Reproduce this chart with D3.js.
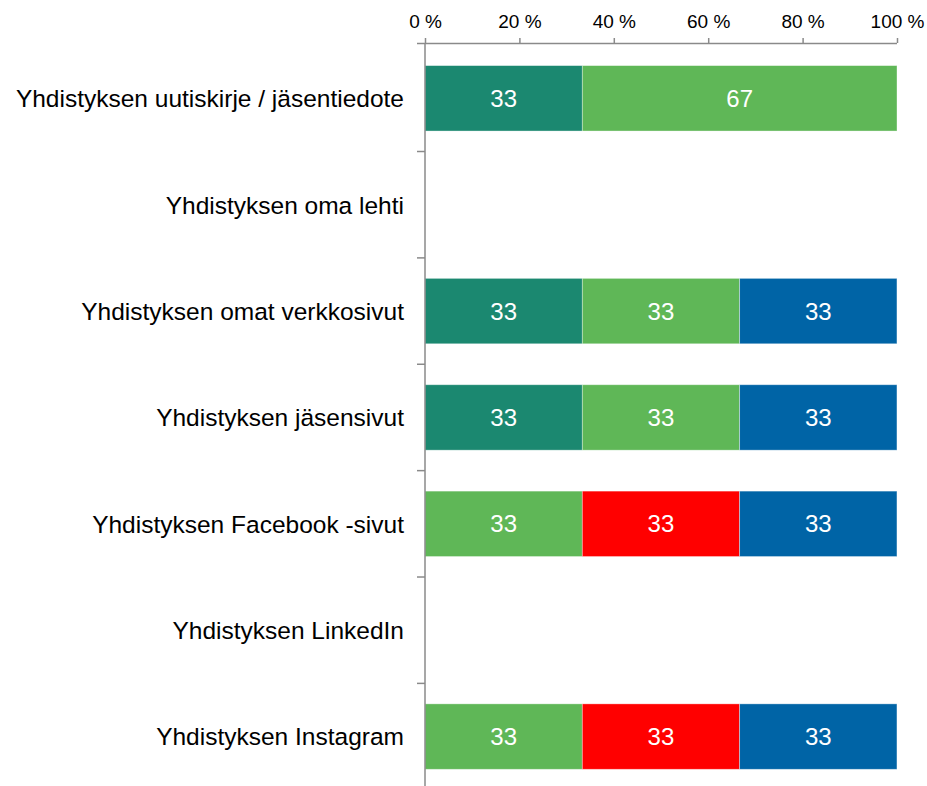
<!DOCTYPE html>
<html><head><meta charset="utf-8">
<script src="https://cdn.jsdelivr.net/npm/d3@7"></script>
<style>body{margin:0;background:#fff}svg{display:block}</style>
</head><body>
<script>
const categories = ["Yhdistyksen uutiskirje / jäsentiedote","Yhdistyksen oma lehti","Yhdistyksen omat verkkosivut","Yhdistyksen jäsensivut","Yhdistyksen Facebook -sivut","Yhdistyksen LinkedIn","Yhdistyksen Instagram"];
const seriesNames = ["S1","S2","S3","S4"];
const s1 = [33.33, 0, 33.33, 33.33, 0, 0, 0];
const s2 = [66.67, 0, 33.33, 33.33, 33.33, 0, 33.33];
const s3 = [0, 0, 0, 0, 33.33, 0, 33.33];
const s4 = [0, 0, 33.33, 33.33, 33.33, 0, 33.33];
const tickValues = [0,20,40,60,80,100];
const colors = ["#1b8870","#5fb757","#ff0000","#0064a6"];

const W=927,H=786;
const FONT="Liberation Sans, Arial, sans-serif";
const svg=d3.select("body").append("svg").attr("width",W).attr("height",H);
const x=d3.scaleLinear().domain([0,100]).range([425,897]);
const y=d3.scaleBand().domain(categories).range([45.4,789.5]).paddingInner(0.385).paddingOuter(0.19);
const step=y.step();
const rows=categories.map((c,i)=>({cat:c,S1:s1[i],S2:s2[i],S3:s3[i],S4:s4[i]}));
const stack=d3.stack().keys(seriesNames)(rows);
const axisColor="#8a8a8a";

stack.forEach((layer,k)=>{
  const g=svg.append("g");
  layer.forEach(d=>{
    const v=d[1]-d[0]; if(v<=0) return;
    g.append("rect").attr("x",x(d[0])).attr("width",x(d[1])-x(d[0]))
     .attr("y",y(d.data.cat)).attr("height",y.bandwidth())
     .attr("fill",colors[k]).attr("stroke","rgba(255,255,255,0.45)").attr("stroke-width",0.8);
    g.append("text").attr("x",(x(d[0])+x(d[1]))/2).attr("y",y(d.data.cat)+y.bandwidth()/2)
     .attr("dy","0.36em").attr("text-anchor","middle").attr("fill","#fff")
     .attr("font-family",FONT).attr("font-size",24)
     .text(Math.round(v));
  });
});

// top axis
const xa=svg.append("g").attr("transform","translate(0,43)")
 .call(d3.axisTop(x).tickValues(tickValues).tickSize(5).tickSizeOuter(0).tickFormat(d=>d+" %"));
xa.select(".domain").attr("d","M417,0.5H897").attr("stroke",axisColor).attr("stroke-width",1.5);
xa.selectAll(".tick line").attr("stroke",axisColor).attr("stroke-width",1.5);
xa.selectAll(".tick text").attr("font-family",FONT).attr("font-size",19).attr("fill","#000").attr("y",-15);

// left axis
svg.append("line").attr("x1",425).attr("x2",425).attr("y1",43).attr("y2",786).attr("stroke",axisColor).attr("stroke-width",1.5);
categories.forEach((c,i)=>{
  if(i===0) return;
  const yy=y(c)-step*y.paddingInner()/2;
  svg.append("line").attr("x1",417).attr("x2",425).attr("y1",yy).attr("y2",yy).attr("stroke",axisColor).attr("stroke-width",1.5);
});
svg.append("g").selectAll("text").data(categories).join("text")
 .attr("x",404).attr("y",d=>y(d)+y.bandwidth()/2).attr("dy","0.36em")
 .attr("text-anchor","end").attr("font-family",FONT).attr("font-size",24.5).attr("fill","#000")
 .text(d=>d);
</script>
</body></html>
